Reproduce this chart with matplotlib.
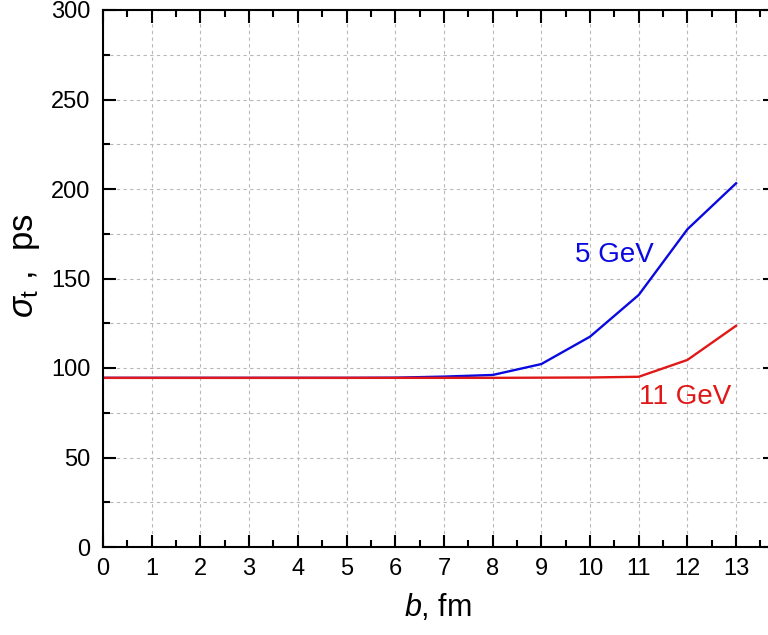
import matplotlib
matplotlib.use("Agg")
import matplotlib.pyplot as plt
from matplotlib.ticker import MultipleLocator

plt.rcParams['font.family'] = ['Liberation Sans', 'DejaVu Sans']
plt.rcParams['mathtext.fontset'] = 'custom'
plt.rcParams['mathtext.rm'] = 'Liberation Sans'
plt.rcParams['mathtext.it'] = 'Liberation Sans:italic'

# impact parameter, fm
b_fm = [0, 1, 2, 3, 4, 5, 6, 7, 8, 9, 10, 11, 12, 13]
# time resolution sigma_t, ps
sigma_5gev = [94.5, 94.5, 94.5, 94.5, 94.5, 94.5, 94.6, 95.2, 96.1, 102.2, 117.5, 140.8, 177.5, 203.2]
sigma_11gev = [94.5, 94.5, 94.5, 94.5, 94.5, 94.5, 94.5, 94.5, 94.5, 94.6, 94.7, 95.1, 104.5, 123.6]

x_ticks = list(range(0, 14))
y_ticks = [0, 50, 100, 150, 200, 250, 300]

fig = plt.figure(figsize=(7.68, 6.35), dpi=100)
ax = fig.add_axes([103 / 768, 88 / 635, (13.8 * 48.7) / 768, 537 / 635])

ax.plot(b_fm, sigma_5gev, color='#0a0ae0', lw=1.7)
ax.plot(b_fm, sigma_11gev, color='#e01818', lw=1.7)

ax.text(9.7, 163, '5 GeV', color='#0a0ae0', fontsize=20, va='center', ha='left')
ax.text(11.0, 84, '11 GeV', color='#e01818', fontsize=20, va='center', ha='left')

ax.set_xlim(0, 13.8)
ax.set_ylim(0, 300)
ax.set_xticks(x_ticks)
ax.set_yticks(y_ticks)
ax.xaxis.set_minor_locator(MultipleLocator(0.5))
ax.yaxis.set_minor_locator(MultipleLocator(25))

ax.grid(True, which='major', axis='x', color='#b8b8b8', ls=(0, (3, 3)), lw=0.8)
ax.grid(True, which='both', axis='y', color='#b8b8b8', ls=(0, (3, 3)), lw=0.8)
ax.set_axisbelow(True)

ax.tick_params(which='both', direction='in', top=True, right=True, width=1.5)
ax.tick_params(which='major', length=9, labelsize=17)
ax.tick_params(axis='x', which='major', pad=8)
ax.tick_params(axis='y', which='major', pad=9)
ax.tick_params(which='minor', length=5)
for s in ax.spines.values():
    s.set_linewidth(1.5)

# axis titles placed in figure coordinates
fig.text(438 / 768, 1 - 607 / 635, r'$b$, fm', fontsize=22, ha='center', va='center')
fig.text(25 / 768, 1 - 266 / 635, r'$\sigma_{\rm t}$ ,  ps', fontsize=25,
         rotation=90, ha='center', va='center')

fig.savefig('out.png', dpi=100)
